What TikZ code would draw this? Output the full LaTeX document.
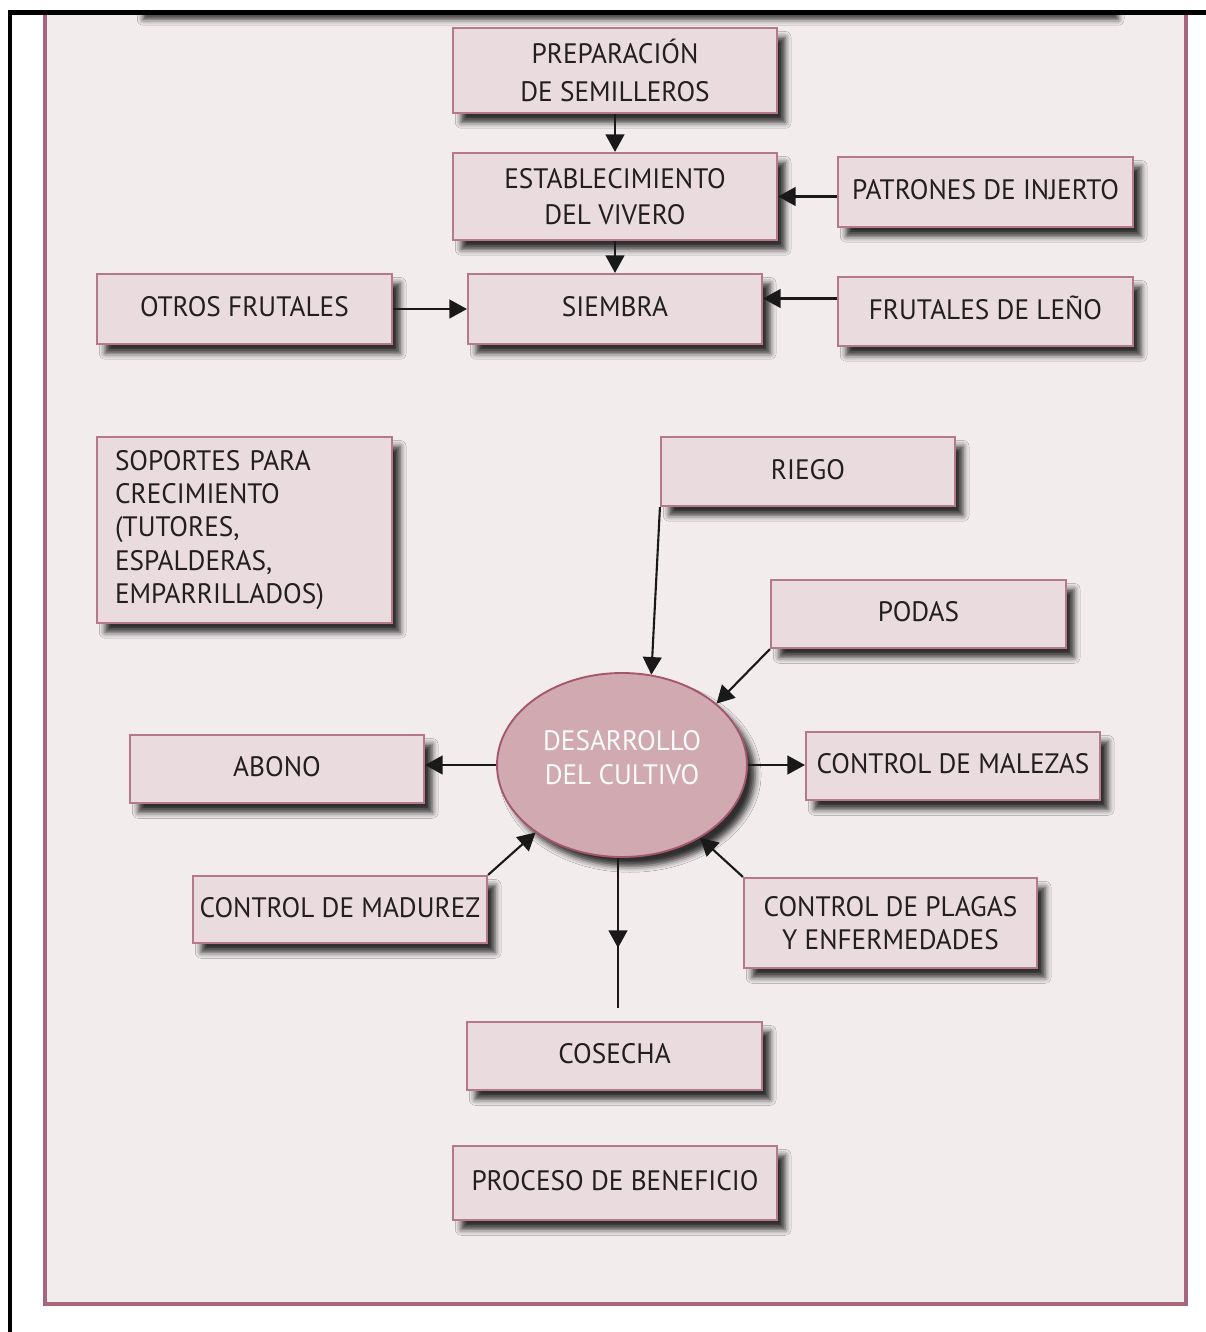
\documentclass[tikz,border=0pt]{standalone}
\usepackage{fontspec}
\setmainfont[FakeStretch=0.97]{PT Sans}
\usetikzlibrary{arrows.meta,shapes.geometric,calc,decorations.markings,shadows.blur}
\newdimen\pxu \pxu=0.03cm
\definecolor{bg}{HTML}{F2ECED}
\definecolor{boxfill}{HTML}{EADBDE}
\definecolor{boxdraw}{HTML}{B47A8A}
\definecolor{framec}{HTML}{A9667A}
\definecolor{ellfill}{HTML}{D0A9B1}
\definecolor{elldraw}{HTML}{A5566E}
\definecolor{txt}{HTML}{231F20}
\begin{document}
\begin{tikzpicture}[x=0.03cm,y=-0.03cm,
  shad/.style={blur shadow={shadow xshift=7pt, shadow yshift=-8pt, shadow blur radius=5pt, shadow opacity=80}},
  box/.style={draw=boxdraw, line width=1.8pt, fill=boxfill, rectangle, align=center,
    text=txt, inner sep=2pt, font=\fontsize{24}{31}\selectfont, shad},
  onel/.style={text height=17pt, text depth=4pt},
  ellnode/.style={ellipse, draw=elldraw, line width=1.6pt, fill=ellfill, inner sep=0pt, shad},
  elltxt/.style={align=center, text=white!97!ellfill, font=\fontsize{24}{29}\selectfont},
  arr/.style={line width=1.8pt, draw=black!90, -{Triangle[length=15pt,width=16pt]}},
  midarr/.style={line width=1.8pt, draw=black!90, postaction={decorate},
    decoration={markings, mark=at position 0.6 with {\arrow{Triangle[length=15pt,width=16pt]}}}}
]
\useasboundingbox (0,0) rectangle (1206,1332);
% background area
\fill[bg] (45,13) rectangle (1186,1304);
% shadow of a box above (cut off)
\path[fill=bg, shad] (135,-80) rectangle (1110,10);
\fill[white] (0,0) rectangle (1206,12);
% pink frame
\draw[framec, line width=4pt] (45,13) -- (45,1304) -- (1186,1304) -- (1186,13);
% black frame
\draw[black, line width=4pt] (10,1332) -- (10,12.5) -- (1206,12.5);

% nodes
\node[box, minimum width=324\pxu, minimum height=85\pxu, font=\fontsize{24}{33}\selectfont] (prep) at (615,70.5) {PREPARACIÓN\\DE SEMILLEROS};
\node[box, minimum width=324\pxu, minimum height=87\pxu] (estab) at (615,196.5) {ESTABLECIMIENTO\\DEL VIVERO};
\node[box, onel, minimum width=295\pxu, minimum height=70\pxu] (patrones) at (985.5,192) {PATRONES DE INJERTO};
\node[box, onel, minimum width=295\pxu, minimum height=70\pxu] (otros) at (244.5,309) {OTROS FRUTALES};
\node[box, onel, minimum width=294\pxu, minimum height=70\pxu] (siembra) at (615,309) {SIEMBRA};
\node[box, onel, minimum width=295\pxu, minimum height=69\pxu] (leno) at (985.5,311.5) {FRUTALES DE LEÑO};
\node[box, minimum width=295\pxu, minimum height=186\pxu, text width=259\pxu, align=left,
  font=\fontsize{24}{28.5}\selectfont] (soportes) at (244.5,530) {SOPORTES PARA\\CRECIMIENTO\\(TUTORES,\\ESPALDERAS,\\EMPARRILLADOS)};
\node[box, onel, minimum width=294\pxu, minimum height=69\pxu] (riego) at (808,471.5) {RIEGO};
\node[box, onel, minimum width=295\pxu, minimum height=68\pxu] (podas) at (918.5,614) {PODAS};
\node[ellnode, minimum width=250\pxu, minimum height=184\pxu] (ell) at (622,765) {};
\node[elltxt] (elltext) at (622,758) {DESARROLLO\\DEL CULTIVO};
\node[box, onel, minimum width=294\pxu, minimum height=68\pxu] (abono) at (277,769) {ABONO};
\node[box, onel, minimum width=294\pxu, minimum height=68\pxu] (malezas) at (953,766) {CONTROL DE MALEZAS};
\node[box, onel, minimum width=294\pxu, minimum height=67\pxu] (madurez) at (340,909.5) {CONTROL DE MADUREZ};
\node[box, minimum width=293\pxu, minimum height=90\pxu, font=\fontsize{24}{28.5}\selectfont] (plagas) at (890.5,923) {CONTROL DE PLAGAS\\Y ENFERMEDADES};
\node[box, onel, minimum width=295\pxu, minimum height=68\pxu] (cosecha) at (614.5,1056) {COSECHA};
\node[box, onel, minimum width=324\pxu, minimum height=74\pxu] (benef) at (615,1183) {PROCESO DE BENEFICIO};

% connectors
\draw[arr] (prep.south) -- (estab.north);
\draw[arr] (estab.south) -- (siembra.north);
\draw[arr] (patrones.west |- estab.east) -- (estab.east);
\draw[arr] (otros.east) -- (siembra.west);
\draw[arr] ($(leno.west)+(0,-13)$) -- ($(leno.west -| siembra.east)+(0,-13)$);
\draw[arr] (riego.south west) -- (ell.72);
\draw[arr] (podas.south west) -- (ell.33);
\draw[arr] (ell.west) -- (ell.west -| abono.east);
\draw[arr] (ell.east) -- (ell.east -| malezas.west);
\draw[arr] (madurez.north east) -- (ell.218);
\draw[arr] (plagas.north west) -- (ell.317);
\coordinate (cend) at ($(ell.south)+(-4,150)$);
\draw[midarr] ($(ell.south)+(-4,0)$) -- (cend);
\end{tikzpicture}
\end{document}
